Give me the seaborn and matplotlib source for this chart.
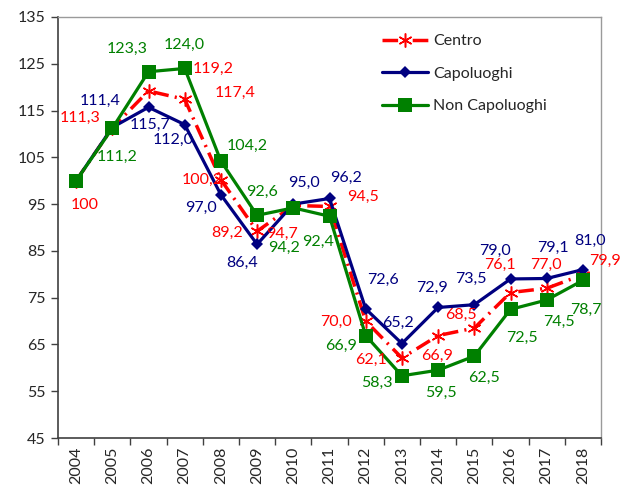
# centro_capoluoghi.py
# - Line chart of the index (2004 = 100) for Centro, Capoluoghi, Non Capoluoghi
# - Excel-style look: boundary ticks on x, data labels next to each point

import matplotlib.pyplot as plt
import seaborn as sns

years = ["2004", "2005", "2006", "2007", "2008", "2009", "2010", "2011",
         "2012", "2013", "2014", "2015", "2016", "2017", "2018"]

centro = [100.0, 111.3, 119.2, 117.4, 100.2, 89.2, 94.7, 94.5,
          70.0, 62.1, 66.9, 68.5, 76.1, 77.0, 79.9]
capoluoghi = [100.0, 111.4, 115.7, 112.0, 97.0, 86.4, 95.0, 96.2,
              72.6, 65.2, 72.9, 73.5, 79.0, 79.1, 81.0]
non_capoluoghi = [100.0, 111.2, 123.3, 124.0, 104.2, 92.6, 94.2, 92.4,
                  66.9, 58.3, 59.5, 62.5, 72.5, 74.5, 78.7]

y_ticks = [45, 55, 65, 75, 85, 95, 105, 115, 125, 135]

# label offsets in screen pixels (dx right, dy down); None = no label
centro_offsets = [(9, 24), (-32, -10), (65, -22), (50, -6), (-19, 0), (-30, 2),
                  (-11, 28), (33, -10), (-30, 1), (-31, 2), (-1, 20), (-13, -13),
                  (-11, -28), (-1, -23), (22, -14)]
capoluoghi_offsets = [None, (-12, -27), (2, 18), (-12, 15), (-20, 13), (-15, 19),
                      (11, -21), (17, -21), (17, -29), (-4, -21), (-6, -20),
                      (-3, -26), (-16, -28), (6, -31), (7, -29)]
non_capoluoghi_offsets = [None, (5, 29), (-21, -23), (0, -24), (26, -15), (5, -23),
                          (-9, 40), (-11, 26), (-25, 10), (-25, 7), (3, 23),
                          (10, 22), (11, 29), (12, 22), (3, 30)]

RED = "#FF0000"
NAVY = "#000080"
GREEN = "#008000"


def fmt(v):
    """Italian style number: comma as decimal separator."""
    if v == 100:
        return "100"
    return f"{v:.1f}".replace(".", ",")


def add_labels(ax, xs, values, offsets, color):
    for x, v, off in zip(xs, values, offsets):
        if off is None:
            continue
        ax.annotate(fmt(v), (x, v), xytext=(off[0], -off[1]),
                    textcoords="offset pixels", ha="center", va="center",
                    color=color, fontsize=11.5, zorder=10)


def main():
    sns.set_style("white")
    plt.rcParams["font.family"] = ["Lato", "DejaVu Sans"]

    fig = plt.figure(figsize=(6.29, 4.88), dpi=100)
    ax = fig.add_axes([58 / 629, 1 - 438 / 488, 543 / 629, 421 / 488])

    xs = list(range(len(years)))

    # red underneath, green on top (as in the original)
    sns.lineplot(x=xs, y=centro, ax=ax, color=RED, linewidth=2.5,
                 linestyle=(0, (4.5, 1.8, 0.6, 1.8)), marker=(6, 2, 0),
                 markersize=10, markeredgewidth=1.1, markeredgecolor=RED,
                 label="Centro", zorder=3)
    sns.lineplot(x=xs, y=capoluoghi, ax=ax, color=NAVY, linewidth=2.3,
                 marker="D", markersize=6.5, markeredgewidth=0,
                 label="Capoluoghi", zorder=4)
    sns.lineplot(x=xs, y=non_capoluoghi, ax=ax, color=GREEN, linewidth=2.3,
                 marker="s", markersize=9.5, markeredgewidth=0,
                 label="Non Capoluoghi", zorder=5)

    add_labels(ax, xs, centro, centro_offsets, RED)
    add_labels(ax, xs, capoluoghi, capoluoghi_offsets, NAVY)
    add_labels(ax, xs, non_capoluoghi, non_capoluoghi_offsets, GREEN)

    # axes and ticks
    ax.set_xlim(-0.5, len(years) - 0.5)
    ax.set_ylim(y_ticks[0], y_ticks[-1])
    ax.set_yticks(y_ticks)
    ax.set_yticklabels([str(t) for t in y_ticks])
    ax.set_xticks(xs)
    ax.set_xticklabels(years, rotation=90)
    ax.set_xticks([x - 0.5 for x in range(len(years) + 1)], minor=True)
    ax.tick_params(axis="x", which="major", length=0, pad=6, labelsize=11.5)
    ax.tick_params(axis="x", which="minor", length=5, width=1, color="#404040",
                   direction="out", bottom=True)
    ax.tick_params(axis="y", length=5, width=1, color="#404040", direction="out",
                   left=True, pad=4, labelsize=11.5)
    ax.set_xlabel("")
    ax.set_ylabel("")

    for side in ("left", "bottom"):
        ax.spines[side].set_color("#404040")
        ax.spines[side].set_linewidth(1.2)
    for side in ("top", "right"):
        ax.spines[side].set_color("#9A9A9A")
        ax.spines[side].set_linewidth(1.0)

    # legend in Centro, Capoluoghi, Non Capoluoghi order
    handles, labels = ax.get_legend_handles_labels()
    order = [labels.index(n) for n in ("Centro", "Capoluoghi", "Non Capoluoghi")]
    ax.legend([handles[i] for i in order], [labels[i] for i in order],
              loc="upper left", bbox_to_anchor=(0.585, 0.975), frameon=False,
              fontsize=11.5, handlelength=2.9, handletextpad=0.3,
              labelspacing=1.15, borderaxespad=0)

    fig.savefig("out.png", dpi=100)


if __name__ == "__main__":
    main()
